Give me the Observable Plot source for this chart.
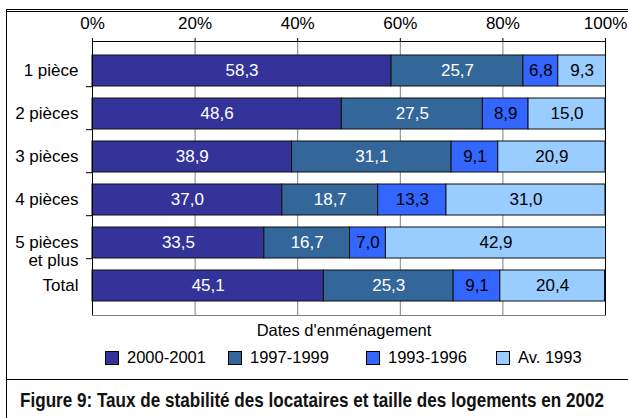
<!DOCTYPE html>
<html>
<head>
<meta charset="utf-8">
<script src="https://cdn.jsdelivr.net/npm/d3@7"></script>
<script src="https://cdn.jsdelivr.net/npm/@observablehq/plot@0.6"></script>
<style>
  body { margin: 0; background: #fff; width: 628px; height: 418px; overflow: hidden; position: relative;
         font-family: "Liberation Sans", Arial, sans-serif; color: #000; }
  #box { position: absolute; left: 6px; top: 9px; width: 700px; height: 420px;
         border-left: 1px solid #000; border-top: 3px double #000; }
  #sep { position: absolute; left: 6px; top: 379px; width: 700px; height: 0; border-top: 1px solid #000; }
  #chart { position: absolute; left: 0; top: 0; }
  #legend-title { position: absolute; left: 0; width: 688px; top: 321px; text-align: center;
                  font-size: 16.5px; line-height: 19px; }
  .item { position: absolute; top: 347px; height: 20px; font-size: 16.5px; line-height: 20px; white-space: nowrap; }
  .sw { position: absolute; left: 0; top: 4px; width: 12px; height: 12px; border: 1px solid #000; }
  .lab { position: absolute; left: 22px; top: 0; }
  #caption { position: absolute; left: 0; top: 387px; white-space: nowrap;
             font-family: "Liberation Sans", sans-serif;
             font-weight: bold; font-size: 20px; line-height: 26px; color: #111; transform-origin: 0 0; }
</style>
</head>
<body>
<div id="box"></div>
<div id="sep"></div>
<div id="chart"></div>
<div id="legend-title"></div>
<div id="legend"></div>
<div id="caption"></div>
<script>
// ---- data ----
const categories = ["1 pièce", "2 pièces", "3 pièces", "4 pièces", "5 pièces\net plus", "Total"];
const series = ["2000-2001", "1997-1999", "1993-1996", "Av. 1993"];
const v2000_2001 = [58.3, 48.6, 38.9, 37.0, 33.5, 45.1];
const v1997_1999 = [25.7, 27.5, 31.1, 18.7, 16.7, 25.3];
const v1993_1996 = [6.8, 8.9, 9.1, 13.3, 7.0, 9.1];
const vAv1993 = [9.3, 15.0, 20.9, 31.0, 42.9, 20.4];
const xTicks = [0, 20, 40, 60, 80, 100];
const legendTitle = "Dates d'enménagement";
const captionText = "Figure 9: Taux de stabilité des locataires et taille des logements en 2002";

// ---- styling ----
const colors = ["#333399", "#336699", "#3366FF", "#99CCFF"];
const lightText = new Set(["2000-2001", "1997-1999"]);

const seriesValues = [v2000_2001, v1997_1999, v1993_1996, vAv1993];
const data = categories.flatMap((c, i) =>
  series.map((s, j) => ({cat: c, series: s, value: seriesValues[j][i]})));
const fmt = v => d3.format(".1f")(v).replace(".", ",");
const singleLine = categories.filter(c => !c.includes("\n"));
const multiLine = categories.filter(c => c.includes("\n"));

const chart = Plot.plot({
  width: 628,
  height: 330,
  marginLeft: 92,
  marginRight: 23,
  marginTop: 41,
  marginBottom: 15,
  style: {fontFamily: "'Liberation Sans', Arial, sans-serif", fontSize: "17px", background: "transparent", overflow: "visible"},
  x: {domain: [0, 100]},
  y: {domain: categories, padding: 0.28},
  color: {domain: series, range: colors},
  marks: [
    Plot.gridX(xTicks.slice(1, -1), {stroke: "#808080", strokeOpacity: 1}),
    Plot.barX(data, Plot.stackX({x: "value", y: "cat", fill: "series", stroke: "#111", strokeWidth: 1})),
    Plot.text(data, Plot.stackX({x: "value", y: "cat", z: "series",
      text: d => lightText.has(d.series) ? fmt(d.value) : null, fill: "white"})),
    Plot.text(data, Plot.stackX({x: "value", y: "cat", z: "series",
      text: d => lightText.has(d.series) ? null : fmt(d.value), fill: "black"})),
    Plot.ruleX([0, 100], {stroke: "#000"}),
    Plot.frame({anchor: "top", stroke: "#000"}),
    Plot.frame({anchor: "bottom", stroke: "#808080"}),
    Plot.axisX({anchor: "top", ticks: xTicks, tickFormat: d => d + "%", tickSize: 4, tickPadding: 9, label: null, fill: "#000"}),
    Plot.axisY({ticks: singleLine, tickSize: 0, tickPadding: 14, label: null, fill: "#000"}),
    Plot.axisY({ticks: multiLine, tickSize: 0, tickPadding: 14, label: null, lineHeight: 1.1, dy: 8, fill: "#000"}),
    Plot.axisY({ticks: categories.slice(0, -1), tickSize: 6, tickFormat: () => "", dy: 15.7, label: null})
  ]
});
document.getElementById("chart").appendChild(chart);

// ---- legend ----
document.getElementById("legend-title").textContent = legendTitle;
const legendX = [105, 228, 366, 496];
const legend = document.getElementById("legend");
series.forEach((s, i) => {
  const it = document.createElement("div");
  it.className = "item";
  it.style.left = legendX[i] + "px";
  const sw = document.createElement("div");
  sw.className = "sw";
  sw.style.background = colors[i];
  const lab = document.createElement("div");
  lab.className = "lab";
  lab.textContent = s;
  it.appendChild(sw);
  it.appendChild(lab);
  legend.appendChild(it);
});

// ---- caption (condensed to fit like the reference) ----
const cap = document.getElementById("caption");
cap.textContent = captionText;
const targetW = 584, targetLeft = 20;
const w = cap.getBoundingClientRect().width;
cap.style.left = targetLeft + "px";
cap.style.transform = `scaleX(${targetW / w})`;
</script>
</body>
</html>
